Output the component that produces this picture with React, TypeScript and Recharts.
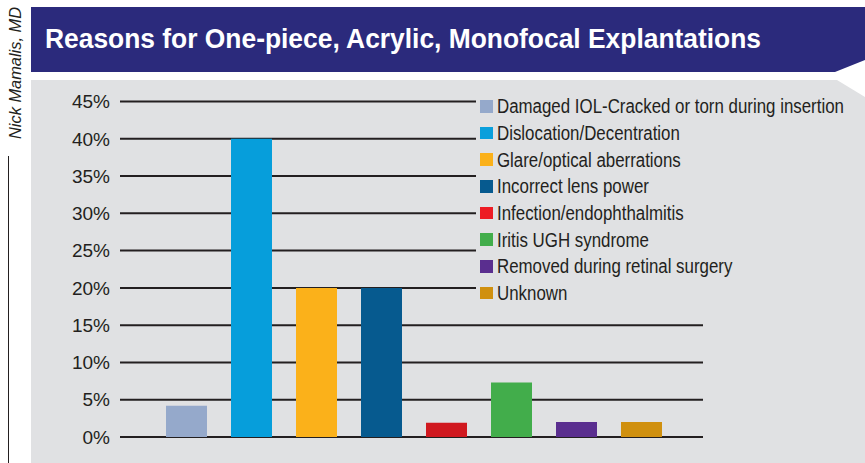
import React from 'react';
import { BarChart, Bar, XAxis, YAxis, CartesianGrid, Cell, Legend } from 'recharts';

const title = 'Reasons for One-piece, Acrylic, Monofocal Explantations';
const author = 'Nick Mamalis, MD';

const categories = [
  'Damaged IOL-Cracked or torn during insertion',
  'Dislocation/Decentration',
  'Glare/optical aberrations',
  'Incorrect lens power',
  'Infection/endophthalmitis',
  'Iritis UGH syndrome',
  'Removed during retinal surgery',
  'Unknown',
];
const values = [4.2, 40, 20, 20, 1.9, 7.3, 2.0, 2.0];
const barColors = ['#95a9cb', '#069edb', '#fbb11a', '#065a8f', '#d0181f', '#42ad4b', '#5a2e8f', '#d0900f'];
const legendColors = ['#95a9cb', '#0a9fdc', '#fbb11a', '#065a8f', '#ed1c24', '#42ad4b', '#5a2e8f', '#d0900f'];
const yTicks = [0, 5, 10, 15, 20, 25, 30, 35, 40, 45];

const data = categories.map((name, i) => ({ name, value: values[i] }));

const LegendContent = () => (
  <div style={{ display: 'flex', flexDirection: 'column' }}>
    {categories.map((c, i) => (
      <div key={c} style={{ display: 'flex', alignItems: 'center', height: 26.67 }}>
        <div style={{ width: 12.7, height: 12.7, background: legendColors[i], marginLeft: 4, marginRight: 4.6, flex: 'none' }} />
        <span
          style={{
            display: 'inline-block',
            fontFamily: '"Liberation Sans", Arial, sans-serif',
            fontSize: 19.5,
            color: '#231f20',
            whiteSpace: 'nowrap',
            lineHeight: '20px',
            transform: 'scaleX(0.865)',
            transformOrigin: 'left center',
          }}
        >
          {c}
        </span>
      </div>
    ))}
  </div>
);

export default function App() {
  return (
    <div style={{ position: 'absolute', left: 0, top: 0, width: 865, height: 463, background: '#fff', overflow: 'hidden' }}>
      <svg width={865} height={463} style={{ position: 'absolute', left: 0, top: 0 }}>
        <polygon points="31,7 865,7 865,60 835,72 31,72" fill="#2b2a7c" />
        <polygon points="31,80 837,80 865,97 865,463 31,463" fill="#e0e1e3" />
        <text x={45} y={47.5} fill="#fff" fontSize={27.5} fontWeight="bold" fontFamily='"Liberation Sans", Arial, sans-serif' textLength={716} lengthAdjust="spacingAndGlyphs">{title}</text>
        <text x={20.5} y={139} transform="rotate(-90 20.5 139)" fill="#231f20" fontSize={16} fontStyle="italic" fontFamily='"Liberation Sans", Arial, sans-serif' textLength={132} lengthAdjust="spacingAndGlyphs">{author}</text>
        <line x1={8.5} y1={156} x2={8.5} y2={463} stroke="#231f20" strokeWidth={1} />
      </svg>
      <div style={{ position: 'absolute', left: 0, top: 0 }}>
        <BarChart width={865} height={463} data={data} margin={{ top: 101.5, right: 162, bottom: 26, left: 0 }}>
          <CartesianGrid vertical={false} stroke="#231f20" strokeWidth={2} />
          <XAxis dataKey="name" hide padding={{ left: 34, right: 29 }} />
          <YAxis
            width={120}
            domain={[0, 45]}
            ticks={yTicks}
            interval={0}
            tickFormatter={(v: number) => `${v}%`}
            axisLine={false}
            tickLine={false}
            tickSize={6}
            tickMargin={4}
            tick={{ fill: '#231f20', fontSize: 19, fontFamily: '"Liberation Sans", Arial, sans-serif' }}
          />
          <Legend
            layout="horizontal"
            align="center"
            verticalAlign="middle"
            content={() => <LegendContent />}
            wrapperStyle={{ position: 'absolute', left: 476, top: 93, width: 370, height: 214, background: '#e0e1e3' }}
          />
          <Bar dataKey="value" barSize={41} isAnimationActive={false}>
            {data.map((d, i) => (
              <Cell key={d.name} fill={barColors[i]} />
            ))}
          </Bar>
        </BarChart>
      </div>
    </div>
  );
}
